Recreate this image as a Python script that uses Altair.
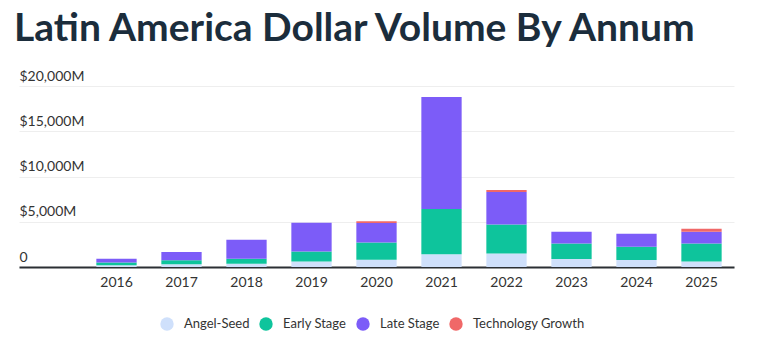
import altair as alt
import pandas as pd

years = ["2016", "2017", "2018", "2019", "2020", "2021", "2022", "2023", "2024", "2025"]
stages = ["Angel-Seed", "Early Stage", "Late Stage", "Technology Growth"]
angel_seed = [200, 300, 350, 600, 800, 1400, 1500, 880, 770, 620]
early_stage = [300, 440, 560, 1120, 1900, 5000, 3200, 1720, 1470, 1980]
late_stage = [420, 910, 2090, 3160, 2150, 12390, 3600, 1290, 1430, 1290]
tech_growth = [0, 0, 0, 0, 210, 0, 220, 0, 0, 330]
colors = ["#cfe0fb", "#0ec49c", "#7c5cf8", "#f06868"]
y_ticks = [0, 5000, 10000, 15000, 20000]

rows = []
for series, vals in zip(stages, [angel_seed, early_stage, late_stage, tech_growth]):
    for i, (yr, v) in enumerate(zip(years, vals)):
        rows.append({"year": yr, "stage": series, "value": v, "order": stages.index(series)})
df = pd.DataFrame(rows)

FONT = "Lato"

chart = alt.Chart(df).mark_bar().encode(
    x=alt.X("year:N", scale=alt.Scale(domain=[""] + years, paddingInner=0.38, paddingOuter=0.19),
            axis=alt.Axis(title=None, labelAngle=0, ticks=False, domainColor="#2b2f33", domainWidth=2,
                          labelFontSize=14, labelColor="#333333", labelPadding=8, labelFont=FONT)),
    y=alt.Y("value:Q", stack="zero", scale=alt.Scale(domain=[0, 20000], nice=False),
            axis=alt.Axis(title=None, values=y_ticks, domain=False, ticks=False,
                          labelExpr="datum.value == 0 ? '0' : '$' + format(datum.value, ',') + 'M'",
                          labelAlign="left", labelBaseline="bottom", labelPadding=0, labelOffset=-3,
                          labelFontSize=14, labelColor="#333333", labelFont=FONT,
                          gridColor="#eeeeee", gridWidth=1)),
    color=alt.Color("stage:N", scale=alt.Scale(domain=stages, range=colors),
                    legend=alt.Legend(title=None, orient="none", direction="horizontal",
                                      legendX=141, legendY=231, symbolType="circle", symbolSize=180,
                                      symbolStrokeWidth=0, labelFontSize=13, labelColor="#333333",
                                      labelFont=FONT, labelOffset=10, columnPadding=9)),
    order=alt.Order("order:Q", sort="ascending"),
).properties(
    width=715, height=181,
    title=alt.TitleParams("Latin America Dollar Volume By Annum", anchor="start", fontSize=39,
                          font=FONT, fontWeight="bold", color="#1b2d3c", dx=-5, offset=20),
    autosize=alt.AutoSizeParams(type="none"),
    padding={"left": 19, "top": 86, "right": 23, "bottom": 72},
).configure_view(stroke=None)

chart.save("out.html", embed_options={"renderer": "svg", "actions": False})
